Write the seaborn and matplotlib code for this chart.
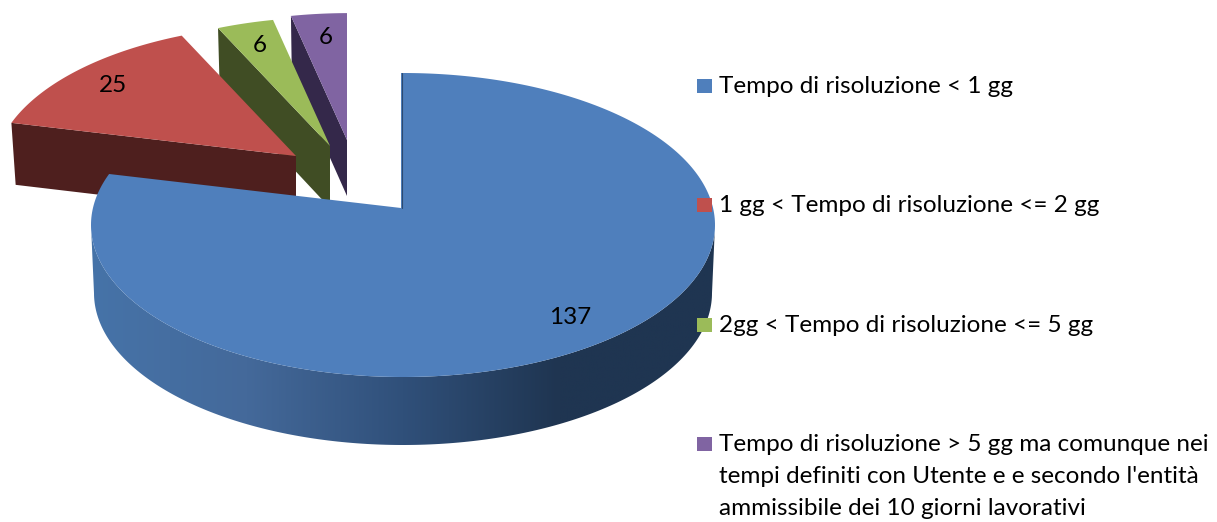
#Exploded 3D pie chart: tempi di risoluzione
import numpy as np
import pandas as pd
import seaborn as sns
import matplotlib
matplotlib.use("Agg")
import matplotlib.pyplot as plt
from matplotlib.patches import Polygon

#Step 1: data
categories = [
    "Tempo di risoluzione < 1 gg",
    "1 gg < Tempo di risoluzione <= 2 gg",
    "2gg < Tempo di risoluzione <= 5 gg",
    "Tempo di risoluzione > 5 gg ma comunque nei\ntempi definiti con Utente e e secondo l'entità\nammissibile dei 10 giorni lavorativi",
]
values = [137, 25, 6, 6]
top_colors = ["#4f7fbc", "#bf504d", "#9bbb59", "#8064a2"]
side_colors = ["#2d4a70", "#4e1f1e", "#404d24", "#34284a"]

#Step 2: style and layout (pixels)
sns.set_theme(style="white")
plt.rcParams["font.family"] = ["Lato", "DejaVu Sans"]
FONT = 17.5

W, H = 1217, 522
RX, RY = 312, 152
apex_pts = [(401, 208), (296, 156), (330, 146), (347, 140)]
scales = [1.0, 0.975, 0.955, 0.94]
depths = [68, 62, 62, 56]
label_pts = [(570, 317), (113, 86), (260, 45), (326, 38)]
legend_ys = [86, 205, 325, 444]

fig = plt.figure(figsize=(W / 100, H / 100), dpi=100)
ax = fig.add_axes([0, 0, 1, 1])


def rim(apex, scale, t):
    #ray from the apex to the perspective-shifted ellipse
    dx, dy = RX * np.sin(t), -RY * np.cos(t)
    ox, oy = 2 * scale, 17 * scale
    a = (dx / (RX * scale)) ** 2 + (dy / (RY * scale)) ** 2
    b = 2 * (-ox * dx / (RX * scale) ** 2 - oy * dy / (RY * scale) ** 2)
    c = (ox / (RX * scale)) ** 2 + (oy / (RY * scale)) ** 2 - 1
    k = (-b + np.sqrt(b * b - 4 * a * c)) / (2 * a)
    return apex[0] + k * dx, apex[1] + k * dy


#Step 3: angles come from the values
df = pd.DataFrame({"category": categories, "value": values})
ends = np.cumsum(df["value"]) / df["value"].sum() * 2 * np.pi
starts = np.r_[0, ends[:-1]]

#back slices first: purple, green, red
for i in [3, 2, 1]:
    t = np.linspace(starts[i], ends[i], 80)
    x, y = rim(apex_pts[i], scales[i], t)
    ax_, ay_ = apex_pts[i]
    d = depths[i]
    side = [(x[0], y[0]), (ax_, ay_), (ax_, ay_ + d),
            (ax_ + (x[0] - ax_) * 0.985, y[0] + d)]
    ax.add_patch(Polygon(side, closed=True, fc=side_colors[i], ec="none", zorder=2 + (3 - i)))
    top = np.column_stack([np.r_[ax_, x], np.r_[ay_, y]])
    ax.add_patch(Polygon(top, closed=True, fc=top_colors[i], ec="none", zorder=2 + (3 - i) + 0.5))

#main slice: rim wall with a horizontal gradient
cx, cy = apex_pts[0][0] + 2, apex_pts[0][1] + 17
u = np.linspace(-np.pi / 2, np.pi / 2, 200)
wall_top = np.column_stack([cx + RX * np.sin(u), cy + RY * np.cos(u)])
wall_bot = np.column_stack([cx + (RX - 3) * np.sin(u), cy + depths[0] + RY * np.cos(u)])
wall = Polygon(np.vstack([wall_top, wall_bot[::-1]]), closed=True, fc="none", ec="none", zorder=7)
ax.add_patch(wall)
grad = sns.blend_palette(["#4673a8", "#44699a", "#30507a", "#1f3551", "#1f3551"], n_colors=256)
im = ax.imshow(np.array(grad)[None, :, :], extent=(91, 715, 450, 200), aspect="auto", zorder=7)
im.set_clip_path(wall)

t = np.linspace(starts[0], ends[0], 300)
x, y = rim(apex_pts[0], scales[0], t)
blue = np.column_stack([np.r_[apex_pts[0][0], x], np.r_[apex_pts[0][1], y]])
ax.add_patch(Polygon(blue, closed=True, fc=top_colors[0], ec="none", zorder=8))
ax.plot([x[0] + 1, apex_pts[0][0] + 1], [y[0], apex_pts[0][1]], color="#2d4a70", lw=0.8, zorder=8)

#Step 4: value labels
for (lx, ly), v in zip(label_pts, values):
    ax.text(lx, ly, str(v), ha="center", va="center", fontsize=FONT, color="black", zorder=10)

#Step 5: legend
legend_df = pd.DataFrame({"x": [704.5] * 4, "y": legend_ys, "category": categories})
sns.scatterplot(data=legend_df, x="x", y="y", hue="category", palette=top_colors, marker="s",
                s=112, linewidth=0, legend=False, ax=ax, zorder=11)
for ly, label in zip(legend_ys, categories):
    ax.text(719, ly - 10, label, ha="left", va="top", fontsize=FONT, color="black",
            linespacing=1.64, zorder=11)

ax.set_xlim(0, W)
ax.set_ylim(H, 0)
ax.axis("off")
fig.savefig("out.png", dpi=100, facecolor="white")
